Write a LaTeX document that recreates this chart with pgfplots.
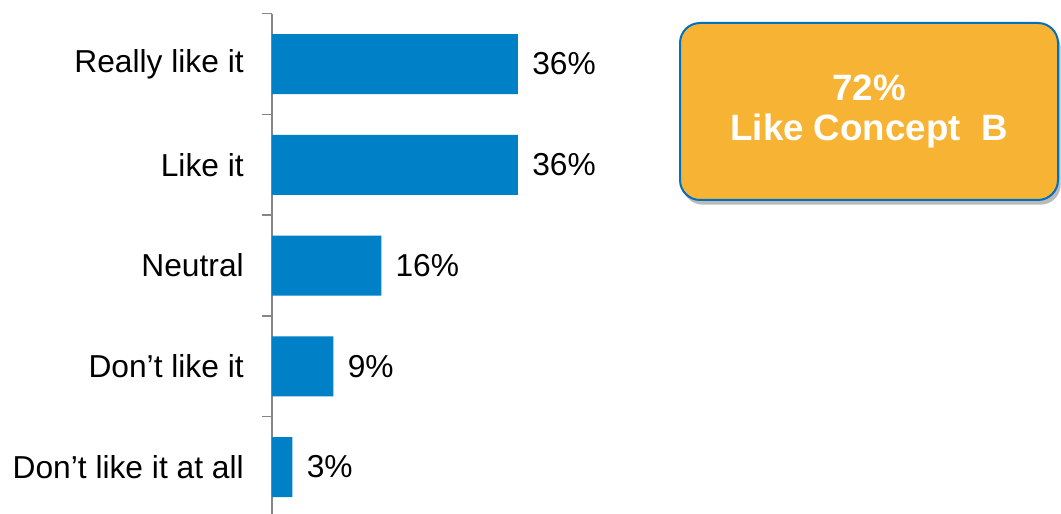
\documentclass[border=0pt]{standalone}
\usepackage{fontspec}
\setmainfont{Liberation Sans}
\usepackage{pgfplots}
\pgfplotsset{compat=1.18}
\usetikzlibrary{shadows}
\definecolor{barblue}{RGB}{0,128,198}
\definecolor{boxorange}{RGB}{247,179,52}
\definecolor{boxborder}{RGB}{0,112,192}
\definecolor{axisgray}{RGB}{134,134,134}
\begin{document}
\begin{tikzpicture}[x=0.75pt,y=0.75pt]
\useasboundingbox (0,0) rectangle (1061,514);
\begin{axis}[
  at={(204pt,-2.55pt)}, anchor=south west,
  scale only axis, width=184.5pt, height=377.8pt,
  xmin=0, xmax=36, ymin=-0.5, ymax=4.5,
  xbar, bar width=45pt,
  hide x axis,
  axis y line*=left,
  y axis line style={draw=axisgray, line width=1.1pt},
  ytick={0,1,2,3,4},
  yticklabels={Don’t like it at all, Don’t like it, Neutral, Like it, Really like it},
  minor ytick={-0.5,0.5,1.5,2.5,3.5,4.5},
  major tick length=0pt, minor tick length=7.5pt,
  tick align=outside,
  minor tick style={draw=axisgray, line width=1.1pt},
  yticklabel style={font=\fontsize{23.8}{28}\selectfont, inner sep=0pt, xshift=-21pt},
  /pgf/number format/assume math mode=true,
  point meta=x,
  nodes near coords={\pgfmathprintnumber{\pgfplotspointmeta}\%},
  nodes near coords style={font=\fontsize{23.8}{28}\selectfont, anchor=west, inner sep=0pt, xshift=10.5pt},
  clip=false,
]
\addplot[fill=barblue, draw=none] coordinates {(3,0) (9,1) (16,2) (36,3) (36,4)};
\end{axis}
\node[draw=boxborder, line width=1.5pt, fill=boxorange, rounded corners=15pt,
  minimum width=283.5pt, minimum height=132.75pt,
  drop shadow={shadow xshift=2pt, shadow yshift=-3.5pt, opacity=0.45, fill=black!60},
  align=center, text=white, font=\bfseries\fontsize{27.5}{30}\selectfont]
  at (869,402.5) {72\%\\Like Concept\ \ B};
\end{tikzpicture}
\end{document}
